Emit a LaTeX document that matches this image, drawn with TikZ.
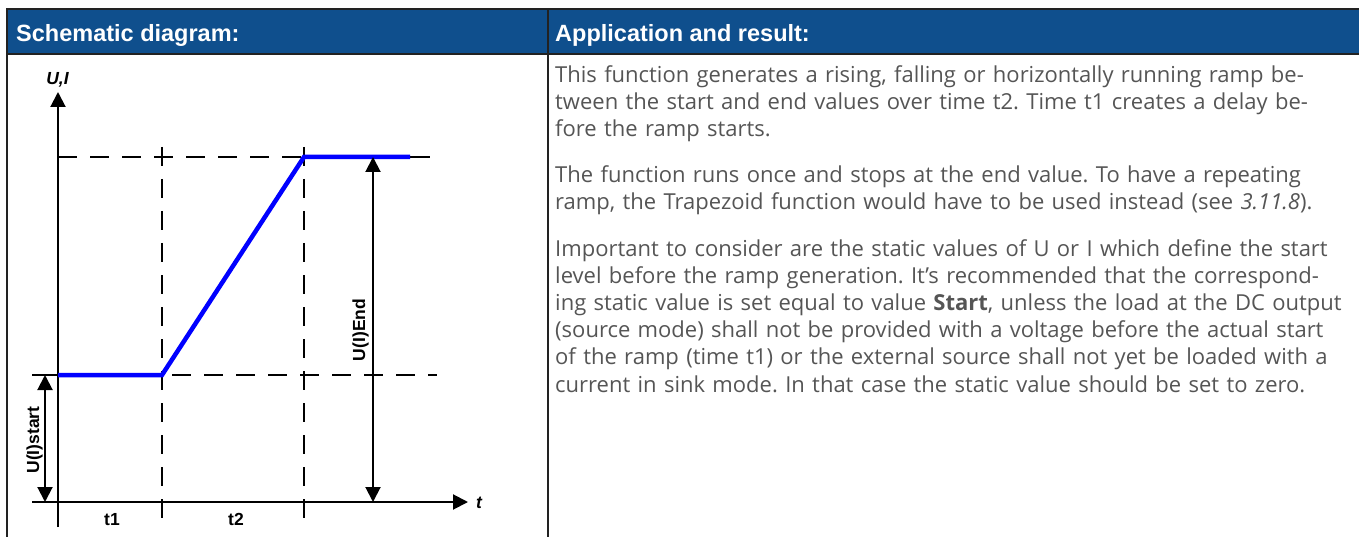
\documentclass[tikz,border=0pt]{standalone}
\usepackage{fontspec}
\setmainfont{Open Sans}
\newfontfamily\labelfont{Liberation Sans}
\usetikzlibrary{arrows.meta}
\definecolor{headblue}{HTML}{0F4F8D}
\definecolor{rulegray}{HTML}{222222}
\definecolor{textgray}{HTML}{555555}
\definecolor{rampblue}{RGB}{0,0,255}
\newcommand{\bodyline}[1]{\makebox[802pt][s]{#1}}
\frenchspacing

\begin{document}
\begin{tikzpicture}[x=1pt,y=-1pt,
    tablerule/.style={draw=rulegray,line width=2pt},
    headtext/.style={anchor=base west,inner sep=0pt,text=white,
                     font=\labelfont\bfseries\fontsize{23.5}{28}\selectfont},
    axisline/.style={line width=2pt,-{Triangle[length=15pt,width=15pt]}},
    spanarr/.style={line width=2pt,
      {Triangle[length=15pt,width=15pt]}-{Triangle[length=15pt,width=15pt]}},
    guide/.style={line width=2pt,dash pattern=on 19pt off 13pt},
    ramp/.style={draw=rampblue,line width=4.5pt},
    lbl/.style={inner sep=0pt,anchor=base,
                font=\labelfont\bfseries\fontsize{17.5}{20}\selectfont}]
  \useasboundingbox (0,0) rectangle (1359,537);

  % table frame and header
  \fill[headblue] (7,9) rectangle (1359,54);
  \draw[tablerule] (1359,9) -- (7,9) -- (7,537);
  \draw[tablerule] (7,54) -- (1359,54);
  \draw[tablerule] (548,9) -- (548,537);
  \node[headtext] (hdleft) at (16,42) {Schematic diagram:};
  \node[headtext] (hdright) at (555,42) {Application and result:};

  % key points of the schematic
  \coordinate (ytop) at (58,92);
  \coordinate (ybot) at (58,527);
  \coordinate (xbeg) at (32,502);
  \coordinate (xend) at (468,502);
  \coordinate (lowL) at (32,375);
  \coordinate (lowA) at (58,375);
  \coordinate (lowB) at (162,375);
  \coordinate (lowE) at (437,375);
  \coordinate (upA) at (58,157);
  \coordinate (upB) at (304,157);
  \coordinate (upC) at (410,157);
  \coordinate (upE) at (430,157);
  \coordinate (tonetop) at (162,147);
  \coordinate (tonebot) at (162,527);
  \coordinate (ttwotop) at (304,147);
  \coordinate (ttwobot) at (304,527);
  \coordinate (endtop) at (373,157);
  \coordinate (endbot) at (373,502);
  \coordinate (starttop) at (45,375);
  \coordinate (startbot) at (45,502);

  % guide lines
  \draw[guide] (tonetop) -- (tonebot);
  \draw[guide] (ttwotop) -- (ttwobot);
  \draw[guide] (upA) -- (upB);
  \draw[guide,dash phase=22pt] (lowB) -- (lowE);
  \draw[line width=2pt] (upB) -- (upE);
  \draw[line width=2pt] (lowL) -- (lowA);

  % axes
  \draw[axisline] (ybot) -- (ytop);
  \draw[axisline] (xbeg) -- (xend);

  % ramp
  \draw[ramp] (lowA) -- (lowB) -- (upB) -- (upC);

  % value spans
  \draw[spanarr] (endtop) -- (endbot);
  \draw[spanarr] (starttop) -- (startbot);

  % labels
  \node[lbl,font=\labelfont\bfseries\itshape\fontsize{17.5}{20}\selectfont]
    (lblui) at (57.5,85) {U,I};
  \node[lbl,font=\labelfont\bfseries\itshape\fontsize{17.5}{20}\selectfont]
    (lblt) at (479,508) {t};
  \node[lbl] (lbltone) at (112,525) {t1};
  \node[lbl] (lblttwo) at (236,525) {t2};
  \node[lbl,rotate=90] (lblstart) at (39,440) {U(I)start};
  \node[lbl,rotate=90] (lblend) at (365,330) {U(I)End};

  % description
  \node[anchor=north west,inner sep=0pt,text width=802pt,text=textgray,
        font=\fontsize{22}{27.2}\selectfont] (body) at (555,62)
    {\noindent\rule{0pt}{20pt}%
     \bodyline{This function generates a rising, falling or horizontally running ramp be-}\\
     \bodyline{tween the start and end values over time t2. Time t1 creates a delay be-}\\
     fore the ramp starts.\\[19pt]
     \bodyline{The function runs once and stops at the end value. To have a repeating}\\
     ramp, the Trapezoid function would have to be used instead (see \textit{3.11.8}).\\[19pt]
     \bodyline{Important to consider are the static values of U or I which define the start}\\
     \bodyline{level before the ramp generation. It’s recommended that the correspond-}\\
     \bodyline{ing static value is set equal to value \textbf{Start}, unless the load at the DC output}\\
     \bodyline{(source mode) shall not be provided with a voltage before the actual start}\\
     \bodyline{of the ramp (time t1) or the external source shall not yet be loaded with a}\\
     current in sink mode. In that case the static value should be set to zero.};
\end{tikzpicture}
\end{document}
